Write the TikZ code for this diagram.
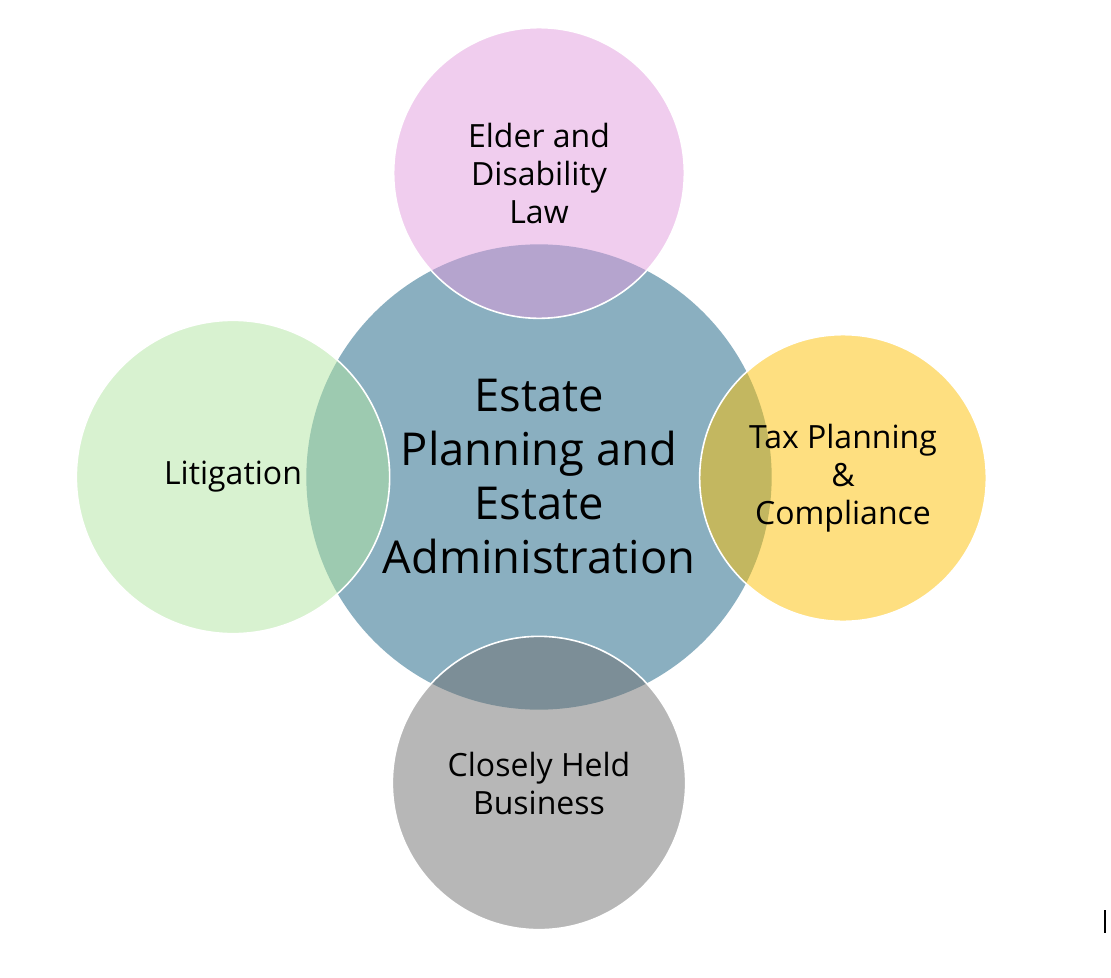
\documentclass[tikz,border=0pt]{standalone}
\usepackage{fontspec}
\setmainfont{Open Sans}
\usetikzlibrary{positioning}

\definecolor{estateblue}{RGB}{138,175,192}
\definecolor{elderpink}{RGB}{225,155,221}
\definecolor{litiggreen}{RGB}{177,229,161}
\definecolor{taxyellow}{RGB}{253,191,1}
\definecolor{closelygray}{RGB}{111,111,111}

\begin{document}
\begin{tikzpicture}[
    x=0.75pt, y=-0.75pt,
    hub/.style={circle, fill=estateblue, minimum size=349pt, inner sep=0pt,
                align=center, font=\fontsize{34}{40.5}\selectfont},
    sat/.style={circle, draw=white, line width=1.2pt, fill opacity=0.5,
                text opacity=1, inner sep=0pt, align=center,
                font=\fontsize{24}{28.5}\selectfont},
]
    \useasboundingbox (0,0) rectangle (1111,978);

    %==================== CENTRE ====================
    \node[hub] (estate) at (539,477)
        {Estate\\Planning and\\Estate\\Administration};

    %==================== SATELLITES ====================
    \node[sat, fill=elderpink, minimum size=218pt] (elder) at (539,173)
        {Elder and\\Disability\\Law};
    \node[sat, fill=litiggreen, minimum size=235pt] (litig) at (233,477)
        {Litigation};
    \node[sat, fill=taxyellow, minimum size=215pt] (tax) at (843,478)
        {Tax Planning\\\&\\Compliance};
    \node[sat, fill=closelygray, minimum size=220pt] (closely) at (539,783)
        {Closely Held\\Business};

    %==================== cursor mark ====================
    \draw[line width=0.9pt] (1105,910) -- (1105,933);

\end{tikzpicture}
\end{document}
